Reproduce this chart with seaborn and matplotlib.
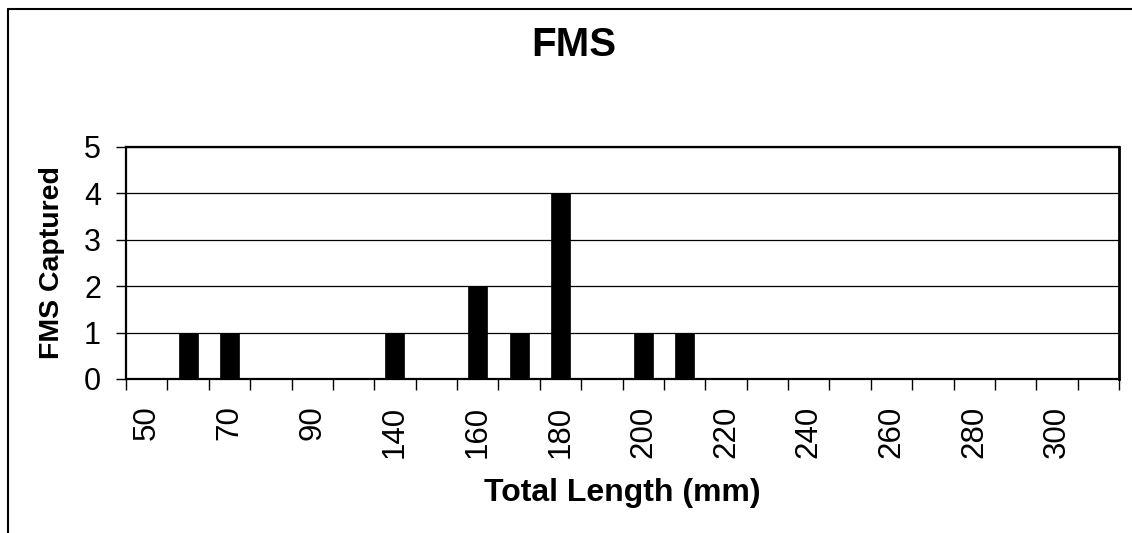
import numpy as np
import pandas as pd
import matplotlib
matplotlib.use("Agg")
import matplotlib.pyplot as plt
from matplotlib.lines import Line2D
import seaborn as sns

# Data
lengths = ["50", "60", "70", "80", "90", "130", "140", "150", "160", "170", "180",
           "190", "200", "210", "220", "230", "240", "250", "260", "270", "280",
           "290", "300", "310"]
captured = [0, 1, 1, 0, 0, 0, 1, 0, 2, 1, 4, 0, 1, 1, 0, 0, 0, 0, 0, 0, 0, 0, 0, 0]
shown_labels = ["50", "70", "90", "140", "160", "180", "200", "220", "240", "260", "280", "300"]

sns.set_style("white")
plt.rcParams["font.family"] = ["Liberation Sans", "DejaVu Sans"]
plt.rcParams["text.color"] = "black"
plt.rcParams["axes.labelcolor"] = "black"
plt.rcParams["xtick.color"] = "black"
plt.rcParams["ytick.color"] = "black"

W, H = 1132, 533
fig = plt.figure(figsize=(W / 100, H / 100), dpi=100)
L, R, T, B = 126, 1119, 147, 379
ax = fig.add_axes([L / W, 1 - B / H, (R - L) / W, (B - T) / H])

df = pd.DataFrame({"len": lengths, "n": captured})
sns.barplot(data=df, x="len", y="n", order=lengths, color="black",
            width=0.46, edgecolor="black", linewidth=0.5, saturation=1, ax=ax, zorder=3)

ax.set_xlim(-0.5, len(lengths) - 0.5)
ax.set_ylim(0, 5)
ax.set_yticks(range(0, 6))
ax.yaxis.grid(True, color="black", linewidth=0.9, zorder=0)
ax.xaxis.grid(False)
ax.set_axisbelow(True)

major_pos = [lengths.index(s) for s in shown_labels]
ax.set_xticks(major_pos, labels=shown_labels, rotation=90)
ax.set_xticks(np.arange(-0.5, len(lengths), 1), minor=True)
ax.tick_params(axis="x", which="major", length=0, pad=19, labelsize=22.5, colors="black")
ax.tick_params(axis="x", which="minor", length=8, width=1, direction="out", color="black", bottom=True)
ax.tick_params(axis="y", which="major", length=7, width=1, direction="out", left=True,
               pad=11, labelsize=22, color="black", labelcolor="black")

for s in ax.spines.values():
    s.set_visible(True)
    s.set_color("black")
    s.set_linewidth(1.6)
ax.spines["right"].set_linewidth(2.0)

ax.set_xlabel("Total Length (mm)", fontsize=23, fontweight="bold", va="center")
ax.xaxis.set_label_coords(0.5, (B - 493) / (B - T))
ax.set_ylabel("FMS Captured", fontsize=20.5, fontweight="bold", va="center")
ax.yaxis.set_label_coords((52 - L) / (R - L), 0.5)
ax.set_title("FMS", fontsize=29, fontweight="bold", va="center",
             x=(574 - L) / (R - L), y=(B - 53) / (B - T))

# outer chart frame
fig.add_artist(Line2D([8 / W, 1], [1 - 9 / H, 1 - 9 / H], transform=fig.transFigure,
                      color="black", linewidth=1.5))
fig.add_artist(Line2D([8 / W, 8 / W], [0, 1 - 9 / H], transform=fig.transFigure,
                      color="black", linewidth=1.5))

fig.savefig("out.png", dpi=100, facecolor="white")
